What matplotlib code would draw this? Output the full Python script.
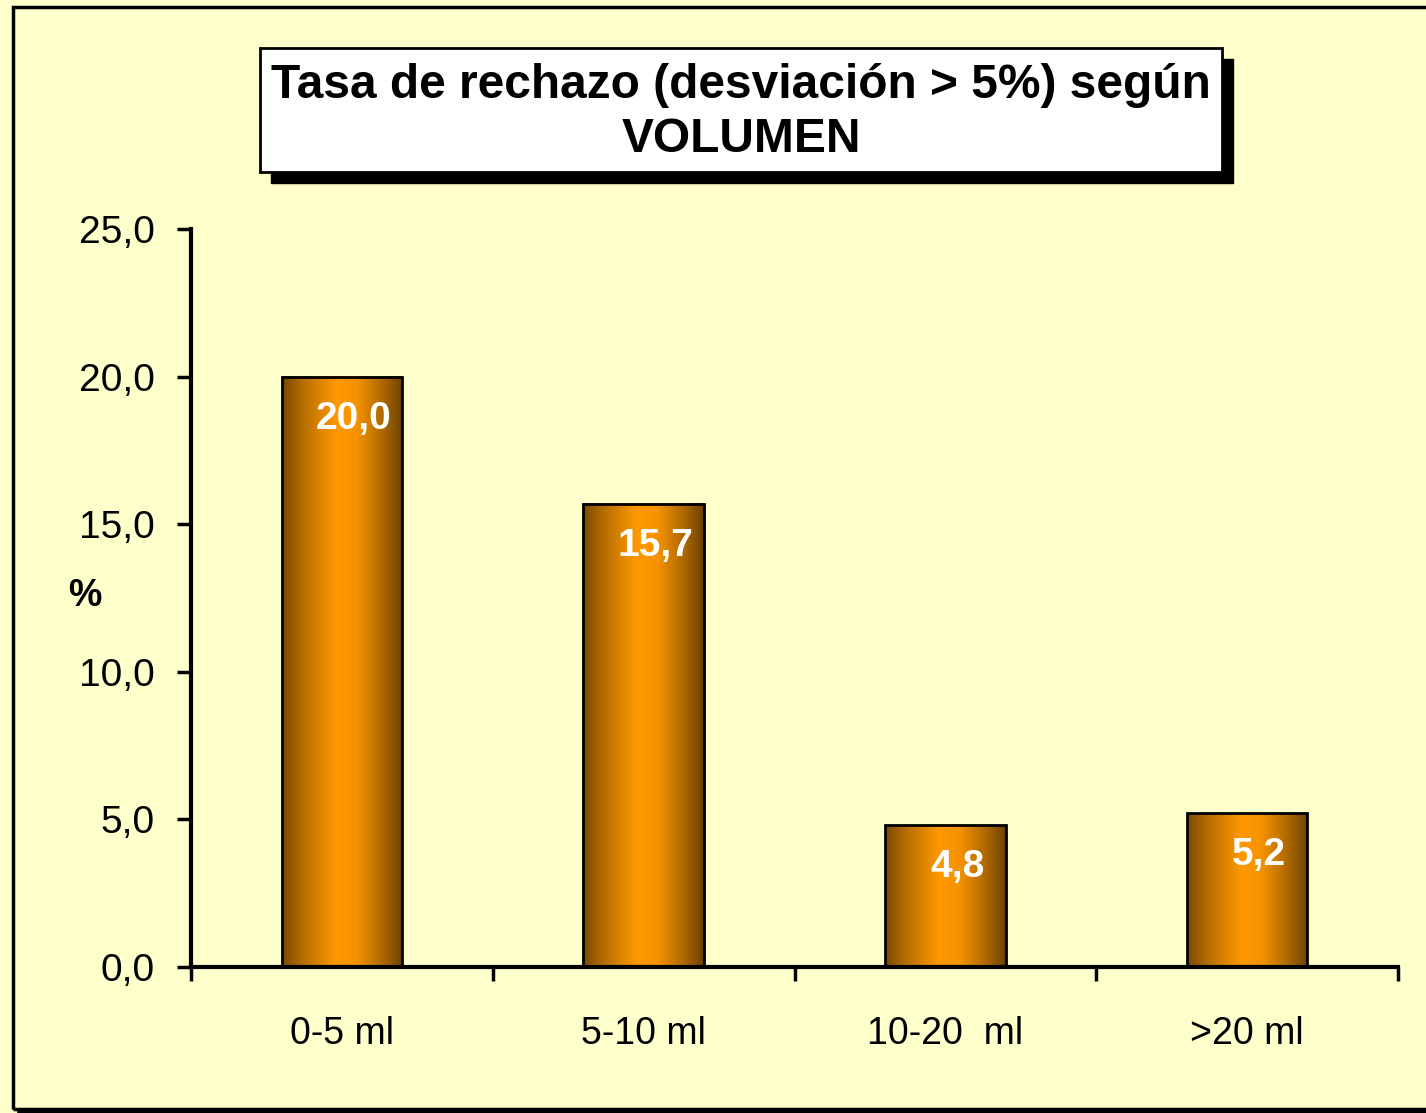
import matplotlib
matplotlib.use("Agg")
import matplotlib.pyplot as plt
import numpy as np
from matplotlib.patches import Rectangle
from matplotlib.colors import LinearSegmentedColormap

categories = ["0-5 ml", "5-10 ml", "10-20  ml", ">20 ml"]
values = [20.0, 15.7, 4.8, 5.2]
value_labels = ["20,0", "15,7", "4,8", "5,2"]
yticks = [0, 5, 10, 15, 20, 25]
ytick_labels = ["0,0", "5,0", "10,0", "15,0", "20,0", "25,0"]
title_lines = ["Tasa de rechazo (desviación > 5%) según", "VOLUMEN"]
ylabel = "%"

plt.rcParams['font.family'] = ['Liberation Sans', 'DejaVu Sans']

W, H = 1426, 1113
fig = plt.figure(figsize=(W / 100, H / 100), dpi=100)
bg = "#FFFFCC"
fig.patch.set_facecolor(bg)

def fx(px):
    return px / W

def fy(py):
    return 1 - py / H

# outer frame
fig.patches.append(Rectangle((fx(13), fy(1109)), 1.2, fy(7) - fy(1109),
                             transform=fig.transFigure, fill=False,
                             edgecolor="black", linewidth=2.5, zorder=1))
fig.lines.append(plt.Line2D([fx(20), 1.0], [fy(1111), fy(1111)],
                            transform=fig.transFigure, color="black", linewidth=4))

ax = fig.add_axes([fx(191), fy(967), fx(1398) - fx(191), fy(229) - fy(967)])
ax.set_facecolor(bg)
x = np.arange(len(categories))
bars = ax.bar(x, values, width=0.40, facecolor="none", edgecolor="black",
              linewidth=2, zorder=3)

cmap = LinearSegmentedColormap.from_list(
    "bar", [(0.0, "#7a4a00"), (0.18, "#b86f00"), (0.45, "#ff9900"),
            (0.62, "#f59200"), (0.85, "#a86500"), (1.0, "#6a4200")])
grad = np.linspace(0, 1, 256).reshape(1, -1)
for b in bars:
    x0, w, h = b.get_x(), b.get_width(), b.get_height()
    ax.imshow(grad, cmap=cmap, aspect="auto", extent=(x0, x0 + w, 0, h),
              zorder=2, interpolation="bilinear")

for xi, v, lab in zip(x, values, value_labels):
    ax.annotate(lab, (xi, v), xytext=(12, -42), textcoords="offset pixels",
                ha="center", va="center", color="white", fontsize=28,
                fontweight="bold", zorder=4)

ax.set_xlim(-0.5, len(categories) - 0.5)
ax.set_ylim(0, 25)
ax.set_yticks(yticks)
ax.set_yticklabels(ytick_labels, fontsize=28)
ax.set_xticks(x)
ax.set_xticklabels(categories, fontsize=27)
ax.set_xticks(np.arange(-0.5, len(categories), 1.0), minor=True)
ax.tick_params(axis="x", which="major", length=0, pad=35)
ax.tick_params(axis="x", which="minor", length=10, width=2.5, direction="out")
ax.tick_params(axis="y", which="major", length=10, width=2.5, direction="out", pad=16)
for s in ["top", "right"]:
    ax.spines[s].set_visible(False)
for s in ["left", "bottom"]:
    ax.spines[s].set_linewidth(3)
ax.set_ylabel(ylabel, rotation=0, fontsize=27, fontweight="bold", va="center", ha="center")
ax.yaxis.set_label_coords((85 - 191) / (1398 - 191), (967 - 596) / (967 - 229))

# title box with shadow
bx0, bx1, by0, by1 = 260, 1222, 48, 172
fig.patches.append(Rectangle((fx(bx0 + 11), fy(by1 + 11)), fx(bx1) - fx(bx0),
                             fy(by0) - fy(by1), transform=fig.transFigure,
                             facecolor="black", edgecolor="black", zorder=5))
fig.patches.append(Rectangle((fx(bx0), fy(by1)), fx(bx1) - fx(bx0),
                             fy(by0) - fy(by1), transform=fig.transFigure,
                             facecolor="white", edgecolor="black", linewidth=2, zorder=6))
fig.text(fx(741), fy(86), title_lines[0], ha="center", va="center",
         fontsize=34.5, fontweight="bold", zorder=7)
fig.text(fx(741), fy(139), title_lines[1], ha="center", va="center",
         fontsize=34.5, fontweight="bold", zorder=7)

fig.savefig("out.png", dpi=100, facecolor=bg)
